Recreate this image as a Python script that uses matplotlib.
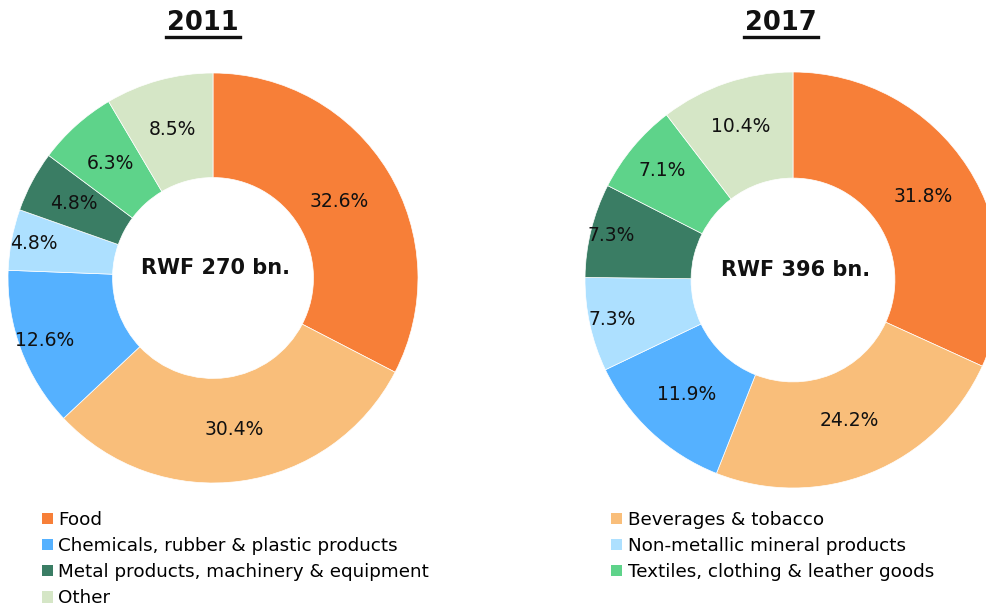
import matplotlib.pyplot as plt
from matplotlib.patches import Patch
from matplotlib.lines import Line2D
import numpy as np

plt.rcParams['font.family'] = ['DejaVu Sans']

# data
categories = ['Food', 'Beverages & tobacco', 'Chemicals, rubber & plastic products',
              'Non-metallic mineral products', 'Metal products, machinery & equipment',
              'Textiles, clothing & leather goods', 'Other']
shares_2011 = [32.6, 30.4, 12.6, 4.8, 4.8, 6.3, 8.5]
shares_2017 = [31.8, 24.2, 11.9, 7.3, 7.3, 7.1, 10.4]
totals = ['RWF 270 bn.', 'RWF 396 bn.']
years = ['2011', '2017']

colors = ['#F77F38', '#F9BE7A', '#55B1FF', '#ADE0FF', '#3A7D64', '#5ED38A', '#D5E6C6']

# label distance from centre (fraction of outer radius), per wedge
label_r = [[0.72, 0.745, 0.875, 0.89, 0.77, 0.75, 0.75],
           [0.745, 0.73, 0.75, 0.89, 0.90, 0.82, 0.78]]

W, H = 987, 608
fig = plt.figure(figsize=(W / 100, H / 100), dpi=100)

# donut centres and radii in pixels (from top-left)
donuts = [(213, 278, 205), (793, 280, 208)]
title_x = [203, 781]

for i, shares in enumerate([shares_2011, shares_2017]):
    cx, cy, R = donuts[i]
    ax = fig.add_axes([(cx - R) / W, (H - cy - R) / H, 2 * R / W, 2 * R / H])
    wedges, _ = ax.pie(shares, colors=colors, startangle=90, counterclock=False,
                       radius=1, wedgeprops=dict(width=0.51, edgecolor='white', linewidth=0.5))
    ax.set_xlim(-1, 1)
    ax.set_ylim(-1, 1)
    ax.set_aspect('equal')
    ax.axis('off')
    for w, val, r in zip(wedges, shares, label_r[i]):
        ang = np.deg2rad((w.theta1 + w.theta2) / 2)
        ax.text(r * np.cos(ang), r * np.sin(ang), f'{val:.1f}%',
                ha='center', va='center', fontsize=13.5, color='#111111')
    ax.text(0.01, 0.05, totals[i], ha='center', va='center', fontsize=15,
            fontweight='bold', color='#111111')

    # underlined year title
    fig.text(title_x[i] / W, 1 - 23 / H, years[i], ha='center', va='center',
             fontsize=18.5, fontweight='bold', color='#111111')
    fig.add_artist(Line2D([(title_x[i] - 37) / W, (title_x[i] + 37) / W],
                          [1 - 36.5 / H, 1 - 36.5 / H], color='#111111', linewidth=2.4,
                          transform=fig.transFigure))

handles = [Patch(facecolor=c, edgecolor='none') for c in colors]
left_idx = [0, 2, 4, 6]
right_idx = [1, 3, 5]

legend_kw = dict(loc='upper left', frameon=False, fontsize=13.2, borderpad=0,
                 borderaxespad=0, handlelength=0.6, handleheight=0.6,
                 handletextpad=0.3, labelspacing=0.44)
fig.legend([handles[k] for k in left_idx], [categories[k] for k in left_idx],
           bbox_to_anchor=(42 / W, 1 - 511 / H), **legend_kw)
fig.legend([handles[k] for k in right_idx], [categories[k] for k in right_idx],
           bbox_to_anchor=(611 / W, 1 - 511 / H), **legend_kw)

fig.savefig('out.png', dpi=100)
